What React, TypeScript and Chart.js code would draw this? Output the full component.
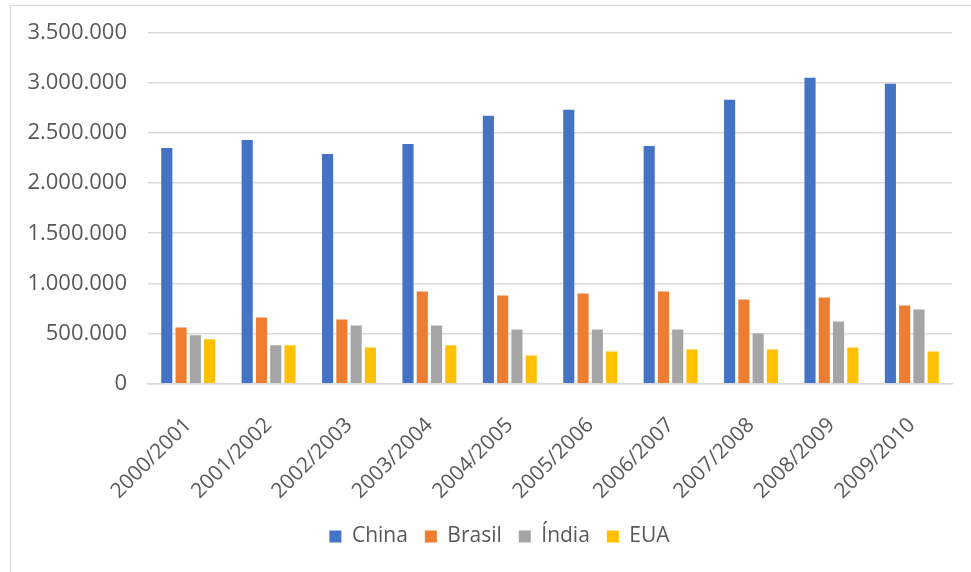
import React, { useEffect, useRef } from "react";
import { Chart, registerables } from "chart.js";

Chart.register(...registerables);

const categories = [
  "2000/2001", "2001/2002", "2002/2003", "2003/2004", "2004/2005",
  "2005/2006", "2006/2007", "2007/2008", "2008/2009", "2009/2010",
];
const china = [2350000, 2430000, 2290000, 2390000, 2670000, 2730000, 2370000, 2830000, 3050000, 2990000];
const brasil = [560000, 660000, 640000, 920000, 880000, 900000, 920000, 840000, 860000, 780000];
const india = [483000, 383000, 580000, 580000, 540000, 540000, 540000, 500000, 620000, 740000];
const eua = [443000, 383000, 363000, 383000, 283000, 323000, 343000, 343000, 363000, 323000];
const yTicks = [0, 500000, 1000000, 1500000, 2000000, 2500000, 3000000, 3500000];

const fmt = (v: number) => String(Math.round(v)).replace(/\B(?=(\d{3})+(?!\d))/g, ".");

const legendShift = {
  id: "legendShift",
  afterLayout(chart: any) {
    if (chart.legend) {
      chart.legend.left += 24;
    }
  },
};

export default function App() {
  const ref = useRef<HTMLCanvasElement | null>(null);
  useEffect(() => {
    if (!ref.current) return;
    const font = { family: "'Open Sans', sans-serif", size: 21 };
    const chart = new Chart(ref.current, {
      type: "bar",
      data: {
        labels: categories,
        datasets: [
          { label: "China", data: china, backgroundColor: "#4472C4" },
          { label: "Brasil", data: brasil, backgroundColor: "#ED7D31" },
          { label: "Índia", data: india, backgroundColor: "#A5A5A5" },
          { label: "EUA", data: eua, backgroundColor: "#FFC000" },
        ],
      },
      plugins: [legendShift],
      options: {
        responsive: false,
        animation: false,
        layout: { padding: { left: 12, right: 49, top: 20, bottom: 15 } },
        datasets: { bar: { categoryPercentage: 0.71, barPercentage: 0.78 } },
        plugins: {
          tooltip: { enabled: false },
          legend: {
            position: "bottom",
            labels: {
              font,
              color: "#595959",
              boxWidth: 12,
              boxHeight: 12,
              padding: 17,
            },
          },
        },
        scales: {
          x: {
            grid: { display: false },
            border: { display: true, color: "#D9D9D9", width: 1.5 },
            afterFit: (s: any) => { s.height -= 16; },
            ticks: { font, color: "#595959", minRotation: 45, maxRotation: 45, padding: 21 },
          },
          y: {
            min: 0,
            max: 3500000,
            afterFit: (s: any) => { s.width = 125; },
            afterBuildTicks: (s: any) => { s.ticks = yTicks.map((v) => ({ value: v })); },
            grid: { color: "#D9D9D9", lineWidth: 1.5, drawTicks: false },
            border: { display: false },
            ticks: {
              font: { family: "'Open Sans', sans-serif", size: 22, lineHeight: 0.5 },
              color: "#595959",
              padding: 21,
              callback: (v: any) => fmt(Number(v)),
            },
          },
        },
      },
    });
    return () => chart.destroy();
  }, []);
  return (
    <div
      style={{
        position: "absolute",
        left: 10,
        top: 5,
        width: 961,
        height: 567,
        borderTop: "1.5px solid #D9D9D9",
        borderLeft: "1.5px solid #D9D9D9",
        overflow: "hidden",
        background: "#fff",
      }}
    >
      <canvas ref={ref} width={990} height={566} style={{ display: "block" }} />
    </div>
  );
}
